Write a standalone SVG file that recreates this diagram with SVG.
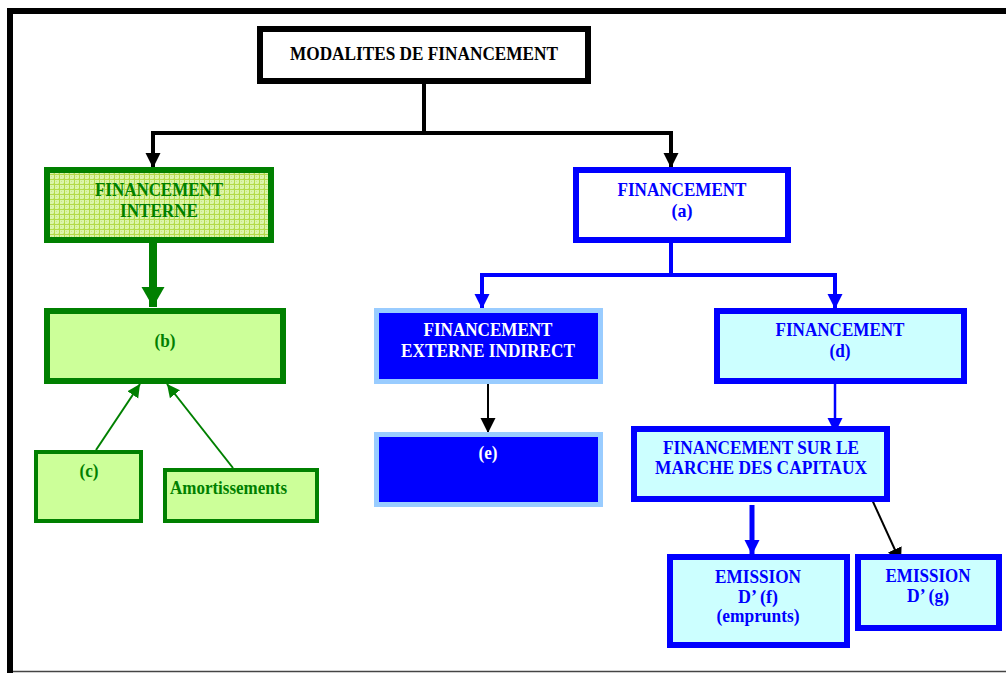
<svg xmlns="http://www.w3.org/2000/svg" width="1006" height="673" viewBox="0 0 1006 673">
<style>
text{font-family:"Liberation Serif","Times New Roman",serif;font-weight:bold;font-size:19.5px;text-anchor:middle}
.k{fill:#000}
.g{fill:#008000}
.b{fill:#0000ff}
.w{fill:#ffffff}
.bx-k{fill:#fff;stroke:#000;stroke-width:6}
.bx-g{fill:#ccff99;stroke:#008000;stroke-width:6}
.bx-g4{fill:#ccff99;stroke:#008000;stroke-width:4}
.bx-b{fill:#fff;stroke:#0000ff;stroke-width:6}
.bx-c{fill:#ccffff;stroke:#0000ff;stroke-width:6}
.bx-d{fill:#0000ff;stroke:#99ccff;stroke-width:5}
.ln{fill:none}
</style>
<defs>
<pattern id="grid" width="5" height="5" patternUnits="userSpaceOnUse">
<rect width="5" height="5" fill="#dcf4ac"/>
<rect x="1" y="1" width="1" height="1" fill="#c8ea80"/>
<rect x="3" y="3" width="1" height="1" fill="#c8ea80"/>
<path d="M4.5,0 V5 M0,4.5 H5" stroke="#b4da4a" stroke-width="1"/>
</pattern>
<marker id="ak" markerUnits="userSpaceOnUse" markerWidth="16" markerHeight="16" refX="15" refY="8" orient="auto"><path d="M0,0.5 L15,8 L0,15.5 z" fill="#000"/></marker>
<marker id="ag" markerUnits="userSpaceOnUse" markerWidth="21" markerHeight="24" refX="20" refY="12" orient="auto"><path d="M0,0.5 L20,12 L0,23.5 z" fill="#008000"/></marker>
<marker id="ag2" markerUnits="userSpaceOnUse" markerWidth="14" markerHeight="14" refX="13" refY="7" orient="auto"><path d="M0,0.5 L13,7 L0,13.5 z" fill="#008000"/></marker>
<marker id="ab" markerUnits="userSpaceOnUse" markerWidth="16" markerHeight="16" refX="15" refY="8" orient="auto"><path d="M0,0.5 L15,8 L0,15.5 z" fill="#0000ff"/></marker>
</defs>
<rect width="1006" height="673" fill="#fff"/>
<g id="frame">
<path d="M7,11 H1006" stroke="#000" stroke-width="6" fill="none"/>
<path d="M10,8 V673" stroke="#000" stroke-width="6" fill="none"/>
<path d="M13,671.5 H1006" stroke="#444" stroke-width="1.5" fill="none"/>
</g>
<g id="connectors" class="ln">
<path d="M424,84 V133 H153 V168" stroke="#000" stroke-width="4" fill="none" marker-end="url(#ak)"/>
<path d="M424,133 H671 V168" stroke="#000" stroke-width="4" fill="none" marker-end="url(#ak)"/>
<path d="M153,243 V307" stroke="#008000" stroke-width="8" fill="none" marker-end="url(#ag)"/>
<path d="M96,450 L140,384" stroke="#008000" stroke-width="2" fill="none" marker-end="url(#ag2)"/>
<path d="M233,468 L167,384" stroke="#008000" stroke-width="2" fill="none" marker-end="url(#ag2)"/>
<path d="M671,243 V275" stroke="#0000ff" stroke-width="4" fill="none"/>
<path d="M482,275 H835" stroke="#0000ff" stroke-width="4" fill="none"/>
<path d="M482,273 V309" stroke="#0000ff" stroke-width="4" fill="none" marker-end="url(#ab)"/>
<path d="M835,273 V309" stroke="#0000ff" stroke-width="4" fill="none" marker-end="url(#ab)"/>
<path d="M488,381 V433" stroke="#000" stroke-width="2" fill="none" marker-end="url(#ak)"/>
<path d="M835,384 V433" stroke="#0000ff" stroke-width="2.5" fill="none" marker-end="url(#ab)"/>
<path d="M752,505 V555" stroke="#0000ff" stroke-width="5" fill="none" marker-end="url(#ab)"/>
<path d="M869,493 L901,563" stroke="#000" stroke-width="2" fill="none" marker-end="url(#ak)"/>
</g>
<g id="modalites">
<rect class="bx-k" x="260" y="29" width="328" height="52"/>
<text class="k" x="424" y="60" textLength="268" lengthAdjust="spacingAndGlyphs">MODALITES DE FINANCEMENT</text>
</g>
<g id="interne">
<rect x="47" y="170" width="224" height="70" fill="url(#grid)" stroke="#008000" stroke-width="6"/>
<text class="g" x="159" y="196" textLength="128" lengthAdjust="spacingAndGlyphs">FINANCEMENT</text>
<text class="g" x="159" y="217" textLength="78" lengthAdjust="spacingAndGlyphs">INTERNE</text>
</g>
<g id="b">
<rect class="bx-g" x="47" y="311" width="236" height="70"/>
<text class="g" x="165" y="347" textLength="21" lengthAdjust="spacingAndGlyphs">(b)</text>
</g>
<g id="c">
<rect class="bx-g4" x="36" y="452" width="105" height="69"/>
<text class="g" x="89" y="477" textLength="19" lengthAdjust="spacingAndGlyphs">(c)</text>
</g>
<g id="amortissements">
<rect class="bx-g4" x="165" y="470" width="152" height="51"/>
<text class="g" x="170" y="494" style="text-anchor:start" textLength="117" lengthAdjust="spacingAndGlyphs">Amortissements</text>
</g>
<g id="a">
<rect class="bx-b" x="576" y="170" width="212" height="70"/>
<text class="b" x="682" y="196" textLength="129" lengthAdjust="spacingAndGlyphs">FINANCEMENT</text>
<text class="b" x="682" y="217" textLength="21" lengthAdjust="spacingAndGlyphs">(a)</text>
</g>
<g id="externe-indirect">
<rect class="bx-d" x="376.5" y="310.5" width="224" height="71"/>
<text class="w" x="488" y="336" textLength="129" lengthAdjust="spacingAndGlyphs">FINANCEMENT</text>
<text class="w" x="488" y="357" textLength="174" lengthAdjust="spacingAndGlyphs">EXTERNE INDIRECT</text>
</g>
<g id="e">
<rect class="bx-d" x="376.5" y="434.5" width="224" height="70"/>
<text class="w" x="488" y="459" textLength="19" lengthAdjust="spacingAndGlyphs">(e)</text>
</g>
<g id="d">
<rect class="bx-c" x="717" y="311" width="247" height="70"/>
<text class="b" x="840" y="336" textLength="129" lengthAdjust="spacingAndGlyphs">FINANCEMENT</text>
<text class="b" x="840" y="357" textLength="21" lengthAdjust="spacingAndGlyphs">(d)</text>
</g>
<g id="marche-capitaux">
<rect class="bx-c" x="634" y="429" width="253" height="70"/>
<text class="b" x="761" y="454" textLength="196" lengthAdjust="spacingAndGlyphs">FINANCEMENT SUR LE</text>
<text class="b" x="761" y="474" textLength="212" lengthAdjust="spacingAndGlyphs">MARCHE DES CAPITAUX</text>
</g>
<g id="f">
<rect class="bx-c" x="670" y="557" width="177" height="88"/>
<text class="b" x="758" y="583" textLength="86" lengthAdjust="spacingAndGlyphs">EMISSION</text>
<text class="b" x="758" y="603" textLength="40" lengthAdjust="spacingAndGlyphs">D’ (f)</text>
<text class="b" x="758" y="622" textLength="83" lengthAdjust="spacingAndGlyphs">(emprunts)</text>
</g>
<g id="g">
<rect class="bx-c" x="858" y="557" width="141" height="71"/>
<text class="b" x="928" y="582" textLength="85" lengthAdjust="spacingAndGlyphs">EMISSION</text>
<text class="b" x="928" y="602" textLength="42" lengthAdjust="spacingAndGlyphs">D’ (g)</text>
</g>
</svg>
